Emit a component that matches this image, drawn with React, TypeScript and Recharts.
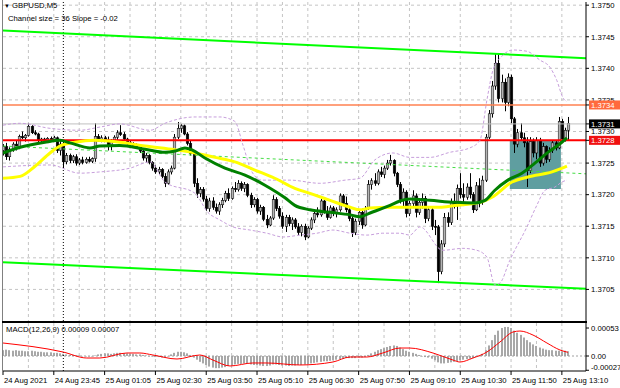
import React from 'react';
import {
  ComposedChart,
  Bar,
  Line,
  XAxis,
  YAxis,
  CartesianGrid,
  ReferenceLine,
  ReferenceArea
} from 'recharts';

// GBPUSD M5 candles: [open, high, low, close]
const candles: number[][] = [
  [1.3727, 1.3728, 1.37262, 1.37276], [1.37276, 1.37282, 1.37255, 1.3726], [1.3726, 1.37275, 1.37254, 1.37272],
  [1.37272, 1.37283, 1.37268, 1.3728], [1.3728, 1.37286, 1.3727, 1.37274], [1.37274, 1.37295, 1.37272, 1.37292],
  [1.37292, 1.373, 1.37288, 1.3729], [1.3729, 1.37296, 1.37284, 1.37294], [1.37294, 1.37313, 1.37292, 1.37308],
  [1.37308, 1.3731, 1.37296, 1.37298], [1.37298, 1.37302, 1.37294, 1.37296], [1.37296, 1.37298, 1.37282, 1.37286],
  [1.37286, 1.3729, 1.37283, 1.37288], [1.37288, 1.3729, 1.37284, 1.37285], [1.37285, 1.37291, 1.37283, 1.37289],
  [1.37289, 1.37292, 1.37285, 1.37286], [1.37286, 1.37293, 1.37284, 1.3729], [1.3729, 1.37292, 1.37266, 1.3727],
  [1.3727, 1.37285, 1.37262, 1.3728], [1.3728, 1.37284, 1.37242, 1.37252], [1.37252, 1.37266, 1.37248, 1.37262],
  [1.37262, 1.37265, 1.3725, 1.37254], [1.37254, 1.37263, 1.3725, 1.3726], [1.3726, 1.37264, 1.37246, 1.3725],
  [1.3725, 1.37258, 1.37247, 1.37255], [1.37255, 1.3726, 1.37248, 1.37251], [1.37251, 1.37259, 1.37249, 1.37256],
  [1.37256, 1.3726, 1.37251, 1.37253], [1.37253, 1.37259, 1.3725, 1.37257], [1.37257, 1.37313, 1.37252, 1.37292],
  [1.37292, 1.37296, 1.37284, 1.37287], [1.37287, 1.37294, 1.37283, 1.3729], [1.3729, 1.37293, 1.37284, 1.37286],
  [1.37286, 1.37292, 1.3727, 1.37276], [1.37276, 1.37288, 1.3727, 1.37285], [1.37285, 1.37294, 1.37283, 1.37291],
  [1.37291, 1.37302, 1.37287, 1.37298], [1.37298, 1.3731, 1.37293, 1.37295], [1.37295, 1.37299, 1.37286, 1.37288],
  [1.37288, 1.3729, 1.37279, 1.37282], [1.37282, 1.37285, 1.37276, 1.3728], [1.3728, 1.37283, 1.37274, 1.37277],
  [1.37277, 1.37281, 1.37273, 1.37275], [1.37275, 1.37278, 1.37266, 1.37269], [1.37269, 1.37272, 1.37254, 1.37258],
  [1.37258, 1.37266, 1.37251, 1.37262], [1.37262, 1.37264, 1.37248, 1.37251], [1.37251, 1.37253, 1.37238, 1.37242],
  [1.37242, 1.37246, 1.37233, 1.37236], [1.37236, 1.37244, 1.37232, 1.3724], [1.3724, 1.37242, 1.37226, 1.37229],
  [1.37229, 1.37234, 1.37212, 1.37218], [1.37218, 1.3724, 1.37216, 1.37236], [1.37236, 1.37246, 1.37232, 1.37242],
  [1.37242, 1.37296, 1.3724, 1.37291], [1.37291, 1.37315, 1.37288, 1.37305], [1.37305, 1.37312, 1.37298, 1.37309],
  [1.37309, 1.37311, 1.37294, 1.37296], [1.37296, 1.37299, 1.37278, 1.37281], [1.37281, 1.37286, 1.37262, 1.37265],
  [1.37265, 1.37268, 1.37212, 1.37218], [1.37218, 1.37226, 1.37195, 1.37202], [1.37202, 1.37212, 1.37196, 1.37208],
  [1.37208, 1.37212, 1.37189, 1.37193], [1.37193, 1.37198, 1.37174, 1.37178], [1.37178, 1.37195, 1.37173, 1.3719],
  [1.3719, 1.37196, 1.37176, 1.3718], [1.3718, 1.37186, 1.3717, 1.37174], [1.37174, 1.37188, 1.37168, 1.37184],
  [1.37184, 1.37195, 1.37179, 1.37191], [1.37191, 1.37206, 1.37188, 1.37202], [1.37202, 1.3721, 1.3719, 1.37194],
  [1.37194, 1.37213, 1.37192, 1.3721], [1.3721, 1.3722, 1.37204, 1.37208], [1.37208, 1.37223, 1.37205, 1.37218],
  [1.37218, 1.37221, 1.37206, 1.3721], [1.3721, 1.3722, 1.37204, 1.37216], [1.37216, 1.37218, 1.37196, 1.37199],
  [1.37199, 1.37203, 1.37179, 1.37184], [1.37184, 1.37196, 1.3718, 1.37192], [1.37192, 1.37195, 1.3717, 1.37174],
  [1.37174, 1.37184, 1.37168, 1.3718], [1.3718, 1.37182, 1.37158, 1.37161], [1.37161, 1.37168, 1.37147, 1.37152],
  [1.37152, 1.37166, 1.3715, 1.37163], [1.37163, 1.37199, 1.3716, 1.37192], [1.37192, 1.37196, 1.37174, 1.37178],
  [1.37178, 1.37182, 1.37162, 1.37166], [1.37166, 1.37172, 1.37146, 1.3715], [1.3715, 1.37168, 1.37141, 1.37164],
  [1.37164, 1.37168, 1.3715, 1.37154], [1.37154, 1.37164, 1.37144, 1.3716], [1.3716, 1.37163, 1.37146, 1.37149],
  [1.37149, 1.37155, 1.37136, 1.3714], [1.3714, 1.37153, 1.37134, 1.3715], [1.3715, 1.37154, 1.37128, 1.37133],
  [1.37133, 1.3715, 1.37131, 1.37147], [1.37147, 1.37164, 1.37144, 1.3716], [1.3716, 1.37174, 1.37155, 1.3717],
  [1.3717, 1.3718, 1.37164, 1.37168], [1.37168, 1.37196, 1.37165, 1.3719], [1.3719, 1.37193, 1.3717, 1.37174],
  [1.37174, 1.37182, 1.3716, 1.37164], [1.37164, 1.37183, 1.37162, 1.37179], [1.37179, 1.37182, 1.37166, 1.3717],
  [1.3717, 1.3718, 1.37164, 1.37176], [1.37176, 1.37202, 1.37173, 1.37198], [1.37198, 1.37201, 1.37182, 1.37186],
  [1.37186, 1.37197, 1.37172, 1.37176], [1.37176, 1.3718, 1.37158, 1.37162], [1.37162, 1.37168, 1.37133, 1.3714],
  [1.3714, 1.37162, 1.37136, 1.37158], [1.37158, 1.37176, 1.37152, 1.37172], [1.37172, 1.37178, 1.37146, 1.37152],
  [1.37152, 1.37182, 1.3715, 1.37178], [1.37178, 1.37223, 1.37176, 1.37216], [1.37216, 1.37226, 1.37208, 1.37222],
  [1.37222, 1.37234, 1.37214, 1.37218], [1.37218, 1.3724, 1.37215, 1.37236], [1.37236, 1.37244, 1.37228, 1.37232],
  [1.37232, 1.37246, 1.37226, 1.37242], [1.37242, 1.37255, 1.37239, 1.3725], [1.3725, 1.37263, 1.37246, 1.37254],
  [1.37254, 1.37256, 1.37229, 1.37234], [1.37234, 1.37236, 1.37212, 1.37216], [1.37216, 1.3722, 1.37186, 1.37192],
  [1.37192, 1.3721, 1.3718, 1.37204], [1.37204, 1.37207, 1.37164, 1.3717], [1.3717, 1.3719, 1.37166, 1.37186],
  [1.37186, 1.37207, 1.37182, 1.37198], [1.37198, 1.37202, 1.37164, 1.37172], [1.37172, 1.37194, 1.37168, 1.37188],
  [1.37188, 1.37202, 1.37178, 1.37194], [1.37194, 1.37198, 1.37155, 1.37162], [1.37162, 1.3718, 1.37158, 1.37176],
  [1.37176, 1.3718, 1.37144, 1.3715], [1.3715, 1.3716, 1.37136, 1.37149], [1.37149, 1.37152, 1.3706, 1.37078],
  [1.37078, 1.37128, 1.37074, 1.37122], [1.37122, 1.37171, 1.37117, 1.37164], [1.37164, 1.37172, 1.37149, 1.37156],
  [1.37156, 1.37194, 1.37152, 1.37188], [1.37188, 1.37202, 1.37178, 1.37184], [1.37184, 1.37216, 1.3716, 1.3721],
  [1.3721, 1.37234, 1.37194, 1.372], [1.372, 1.37218, 1.37182, 1.37196], [1.37196, 1.37218, 1.37192, 1.37212],
  [1.37212, 1.37234, 1.37194, 1.372], [1.372, 1.37204, 1.37171, 1.37176], [1.37176, 1.3722, 1.37174, 1.37214],
  [1.37214, 1.37226, 1.3718, 1.37188], [1.37188, 1.3723, 1.37184, 1.37223], [1.37223, 1.37296, 1.3722, 1.37291],
  [1.37291, 1.37334, 1.37288, 1.37328], [1.37328, 1.3738, 1.37322, 1.37372], [1.37372, 1.37424, 1.37366, 1.37408],
  [1.37408, 1.37424, 1.37346, 1.37352], [1.37352, 1.3739, 1.37346, 1.37378], [1.37378, 1.37384, 1.37332, 1.37346],
  [1.37346, 1.37392, 1.3734, 1.37386], [1.37386, 1.3739, 1.37313, 1.3732], [1.3732, 1.37323, 1.37266, 1.3728],
  [1.3728, 1.37304, 1.37275, 1.37298], [1.37298, 1.37313, 1.37286, 1.3729], [1.3729, 1.37298, 1.37275, 1.37282],
  [1.37282, 1.37291, 1.37212, 1.37238], [1.37238, 1.37291, 1.37234, 1.37284], [1.37284, 1.37289, 1.37259, 1.37266],
  [1.37266, 1.37291, 1.37256, 1.37286], [1.37286, 1.3729, 1.37244, 1.3725], [1.3725, 1.37282, 1.37246, 1.37276],
  [1.37276, 1.37278, 1.3725, 1.37256], [1.37256, 1.37275, 1.37252, 1.3727], [1.3727, 1.37286, 1.37266, 1.37282],
  [1.37282, 1.37286, 1.3727, 1.37274], [1.37274, 1.37323, 1.37272, 1.37316], [1.37316, 1.3732, 1.37282, 1.37288],
  [1.37288, 1.37306, 1.37284, 1.37302], [1.37302, 1.37323, 1.37286, 1.37313]
];

// MACD(12,26,9) main line, drawn as histogram, one value per candle
const macdHist = [
  0.00011, 0.00012, 0.00011, 0.0001, 0.00011, 0.0001, 0.0001,
  0.00009, 0.00009, 0.0001, 0.00009, 0.00008, 0.00008, 0.00007, 0.00007, 0.00007, 0.00006, 0.00006, 0.00005,
  0.00004, 0.00003, 0.00002, 0.00002, 0.00001, 0.00001,
  0, 0, -0.00001, 0, 0.00001, 0.00003,
  0.00004, 0.00005, 0.00005, 0.00004, 0.00005, 0.00006, 0.00006, 0.00005, 0.00005, 0.00004, 0.00004, 0.00003, 0.00003,
  0.00002, 0.00001, 0, -0.00001, -0.00002, -0.00002, -0.00003,
  -0.00003, 0, 0.00003, 0.00006, 0.00008, 0.00008, 0.00007, 0.00005,
  0.00002, -0.00003, -0.00007, -0.00011, -0.00014, -0.00017,
  -0.0002, -0.00022, -0.00023, -0.00023, -0.00022, -0.00021, -0.00019, -0.00018,
  -0.00016, -0.00015, -0.00015, -0.00014, -0.00015, -0.00016, -0.00017, -0.00017,
  -0.00018, -0.00019, -0.00019, -0.00018, -0.00016, -0.00016, -0.00017, -0.00018, -0.00018, -0.00019, -0.00018, -0.00018, -0.00017,
  -0.00017, -0.00016, -0.00016, -0.00014, -0.00013, -0.00012, -0.00011, -0.0001, -0.0001, -0.00009, -0.00008,
  -0.00007, -0.00006, -0.00005, -0.00004, -0.00004, -0.00004, -0.00004, -0.00003, -0.00003, -0.00002,
  0.00002, 0.00005, 0.00008, 0.00011, 0.00013, 0.00015, 0.00017, 0.00019, 0.0002, 0.00019,
  0.00016, 0.00013, 0.0001, 0.00008, 0.00006, 0.00004, 0.00002,
  0, -0.00002, -0.00003, -0.00005, -0.00008,
  -0.00012, -0.00014, -0.00014, -0.00013, -0.00012, -0.00011, -0.0001,
  -0.00008, -0.00007, -0.00006, -0.00005, -0.00004, -0.00002, 0,
  0.00004, 0.00011, 0.0002, 0.0003, 0.0004,
  0.00048, 0.00053, 0.00055, 0.00055, 0.00053,
  0.00048, 0.00044, 0.0004, 0.00035, 0.0003, 0.00026,
  0.00022, 0.00019, 0.00016, 0.00014, 0.00012, 0.00011,
  0.00011, 0.0001, 0.0001, 0.00009, 0.0001, 0.00009
];

// [bar index, value] points
const greenMa = [
  [0, 1.37266], [5.4, 1.37275], [13.2, 1.37283], [17.9, 1.37286], [21.1, 1.37282], [27.4, 1.37274],
  [30.5, 1.37277], [36.8, 1.37278], [44.7, 1.37272], [51, 1.37267], [54.2, 1.37269], [57.3, 1.37274],
  [59.5, 1.37271], [63.6, 1.37258], [69.9, 1.37242], [76.2, 1.37231], [82.5, 1.37215], [88.8, 1.37195],
  [91.9, 1.37183], [96.7, 1.37176], [103, 1.37172], [109.3, 1.37168], [112.4, 1.37165], [115.6, 1.37171],
  [121.9, 1.37183], [125, 1.3719], [128.1, 1.37193], [134.4, 1.37191], [142.3, 1.37188], [148.6, 1.37187],
  [151.8, 1.37191], [154.9, 1.37207], [159, 1.37223], [163.4, 1.37234], [167.5, 1.3725], [171.6, 1.37267],
  [176, 1.37283], [177.6, 1.3729]
];
const yellowMa = [
  [0, 1.37226], [5.4, 1.37229], [10.1, 1.37245], [14.8, 1.37266], [17.9, 1.37277], [22.7, 1.37283],
  [29, 1.37286], [36.8, 1.37283], [44.7, 1.37277], [54.2, 1.37271], [60.5, 1.37266], [66.8, 1.37259],
  [73, 1.37252], [79.3, 1.37239], [85.6, 1.37226], [91.9, 1.3721], [96.7, 1.37202], [103, 1.37191],
  [109.3, 1.3718], [112.4, 1.37176], [115.6, 1.37179], [121.9, 1.3718], [128.1, 1.3718], [137.6, 1.3718],
  [142.3, 1.37183], [149.6, 1.37187], [154, 1.37196], [160.3, 1.3722], [165.3, 1.37228], [172.9, 1.37236],
  [177.6, 1.37245]
];
const bandUpper = [
  [0, 1.3731], [5.4, 1.37313], [14.8, 1.37305], [24.2, 1.37302], [30.5, 1.37307], [36.8, 1.37312],
  [46.3, 1.37302], [51, 1.37313], [60.5, 1.37323], [68.3, 1.37323], [73, 1.37316], [75.6, 1.37278],
  [78.4, 1.37236], [81.5, 1.37223], [90.4, 1.37223], [99.8, 1.37218], [107.7, 1.37223], [112.4, 1.37226],
  [117.1, 1.37255], [122.8, 1.37266], [128.1, 1.37259], [134.4, 1.37259], [140.7, 1.37267], [147, 1.37274],
  [150.2, 1.37286], [152.4, 1.3735], [154.3, 1.37397], [157.1, 1.37419], [160.6, 1.37429], [165, 1.37427],
  [169.1, 1.37413], [172.2, 1.37402], [174.4, 1.37381], [176.3, 1.37354], [177.6, 1.37347]
];
const bandLower = [
  [0, 1.37244], [14.8, 1.37247], [24.2, 1.37234], [30.5, 1.37236], [40, 1.37242], [46.3, 1.37252],
  [51, 1.3722], [60.5, 1.37202], [64.5, 1.37172], [68.3, 1.3716], [72.4, 1.37149], [77.8, 1.37144],
  [83.1, 1.37139], [88.2, 1.37133], [93.5, 1.37136], [98.9, 1.37139], [103.9, 1.37144], [109.3, 1.37139],
  [114.6, 1.37136], [119.6, 1.37139], [125, 1.37139], [128.1, 1.37136], [131.3, 1.37149], [138.5, 1.37112],
  [144.8, 1.37115], [149.2, 1.37112], [152.4, 1.37101], [154.9, 1.37057], [156.5, 1.3706], [159.6, 1.37096],
  [165, 1.37149], [168.1, 1.37183], [170.7, 1.37207], [173.8, 1.37212], [176, 1.3722], [177.6, 1.37223]
];
const macdSignal = [
  [0, 0.000246], [18.9, 0.000076], [26.4, -0.000038], [30.5, -0.000038], [39, 0.000057], [43.1, 0.000057],
  [47.2, 0.000019], [54.8, -0.000057], [62, 0.000019], [66.1, -0.000076], [71.5, -0.000189], [78.7, -0.000132],
  [83.1, -0.000132], [93.5, -0.00017], [103.9, -0.000114], [109.3, -0.000019], [114.6, -0.000019], [119.6, 0.000057],
  [125, 0.000151], [128.1, 0.000151], [135.4, 0.000057], [141.7, -0.000076], [143.9, -0.000114], [148, -0.000038],
  [152.4, 0.000076], [156.5, 0.000265], [160.6, 0.000454], [162.8, 0.000473], [166.9, 0.000397], [171.3, 0.000246],
  [175.4, 0.000114], [177.9, 0.00007]
];

// equidistant channel ends (bar index, price)
const channelTop = [[0, 1.3746], [183.6, 1.37416]];
const channelMid = [[0, 1.37277], [183.6, 1.37233]];
const channelBottom = [[0, 1.37093], [183.6, 1.37051]];

const timeTicks = [0, 16, 32, 48, 64, 80, 96, 112, 128, 144, 160, 176];
const timeLabels = [
  '24 Aug 2021', '24 Aug 23:45', '25 Aug 01:05', '25 Aug 02:30', '25 Aug 03:50', '25 Aug 05:10',
  '25 Aug 06:30', '25 Aug 07:50', '25 Aug 09:10', '25 Aug 10:30', '25 Aug 11:50', '25 Aug 13:10'
];
const priceTicks = [1.3705, 1.371, 1.3715, 1.372, 1.3725, 1.373, 1.3735, 1.374, 1.3745, 1.375];
const markerPrices = [1.37342, 1.37312, 1.37286];
const markerLabels = ['1.3734', '1.3731', '1.3728'];
const markerColors = ['#ff6a3d', '#000000', '#f01010'];
const macdTicks = [0.00053, 0, -0.00027];
const macdTickLabels = ['0.00053', '0.00', '-0.00027'];

const X_MAX = 183.6;
const FONT = '"Liberation Sans", Arial, sans-serif';
const FS = 7.7;
const gridIdx = [8, 16, 24, 32, 40, 48, 56, 64, 72, 80, 88, 96, 104, 112, 120, 128, 136, 144, 152, 160, 168, 176];

const rows = candles.map(([o, h, l, c], i) => ({ i, o, h, l, c, range: [l, h], hist: macdHist[i] }));
const toPts = (arr: number[][]) => arr.map(([i, v]) => ({ i, v }));
const seg = (arr: number[][]) => arr.map(([x, y]) => ({ x, y }));

const Candle = (props: any) => {
  const { x, y, width, height, payload } = props;
  if (!payload) return null;
  const { o, h, l, c } = payload;
  const top = Math.min(y, y + height);
  const span = Math.abs(height);
  const k = h > l ? span / (h - l) : 0;
  const cx = Math.round(x + width / 2) + 0.5;
  const bTop = top + (h - Math.max(o, c)) * k;
  const bBot = top + (h - Math.min(o, c)) * k;
  const up = c >= o;
  return (
    <g>
      <line x1={cx} x2={cx} y1={top} y2={top + span} stroke="#000" strokeWidth={1} />
      <rect
        x={cx - 1.3}
        y={bTop}
        width={2.6}
        height={Math.max(bBot - bTop, 1)}
        fill={up ? '#b4b4b4' : '#000'}
        stroke="#000"
        strokeWidth={0.5}
      />
    </g>
  );
};

const HistBar = (props: any) => {
  const { x, y, width, height } = props;
  if (x == null || y == null) return null;
  const top = Math.min(y, y + height);
  const h = Math.max(Math.abs(height), 0.5);
  const cx = Math.round(x + width / 2);
  return <rect x={cx - 1} y={top} width={2} height={h} fill="#a8a8a8" />;
};

const PriceTick = ({ x, y, payload }: any) => {
  const k = markerPrices.indexOf(payload.value);
  if (k >= 0) {
    return (
      <g>
        <rect x={x - 2} y={y - 4.5} width={33} height={9} fill={markerColors[k]} />
        <text x={x} y={y} dy={2.8} fill="#fff" fontSize={FS}>{markerLabels[k]}</text>
      </g>
    );
  }
  return <text x={x} y={y} dy={2.8} fill="#000" fontSize={FS}>{payload.value.toFixed(4)}</text>;
};

const MacdTick = ({ x, y, payload }: any) => {
  const k = macdTicks.indexOf(payload.value);
  return (
    <text x={x} y={payload.value < 0 ? y - 3 : y} dy={2.8} fill="#000" fontSize={FS}>
      {macdTickLabels[k]}
    </text>
  );
};

const TimeTick = ({ x, y, payload }: any) => (
  <text x={x + 1} y={y} dy={6} fill="#000" fontSize={FS} textAnchor="start">
    {timeLabels[timeTicks.indexOf(payload.value)]}
  </text>
);

export default function App() {
  return (
    <div style={{ position: 'absolute', left: 0, top: 0, width: 620, height: 388, background: '#fff', overflow: 'hidden', fontFamily: FONT }}>
      <div style={{ position: 'absolute', left: 0, top: 0 }}>
        <ComposedChart width={620} height={323} data={rows} margin={{ top: 2, right: 0, bottom: 2, left: 3 }}>
          <CartesianGrid stroke="#c4c4c4" strokeDasharray="3 3" horizontalValues={priceTicks} verticalValues={gridIdx} />
          <XAxis type="number" dataKey="i" domain={[0, X_MAX]} hide allowDataOverflow />
          <YAxis
            orientation="right"
            width={34}
            domain={[1.37, 1.37505]}
            allowDataOverflow
            ticks={[...priceTicks, ...markerPrices]}
            interval={0}
            tick={(p: any) => <PriceTick {...p} />}
            tickSize={3}
            tickLine={{ stroke: '#000' }}
            axisLine={{ stroke: '#000' }}
          />
          <ReferenceArea x1={159.6} x2={175.7} y1={1.37209} y2={1.37286} fill="#5f9ea0" fillOpacity={1} stroke="none" zIndex={50} />
          <ReferenceLine x={19} stroke="#000" strokeDasharray="1 2" />
          <ReferenceLine segment={seg(channelTop)} stroke="#00ff00" strokeWidth={2} />
          <ReferenceLine segment={seg(channelBottom)} stroke="#00ff00" strokeWidth={2} />
          <ReferenceLine segment={seg(channelMid)} stroke="#44dd44" strokeDasharray="3 3" />
          <ReferenceLine y={markerPrices[0]} stroke="#ff8050" strokeWidth={1.5} />
          <ReferenceLine y={markerPrices[1]} stroke="#c0c0c0" />
          <ReferenceLine y={markerPrices[2]} stroke="#ff0000" strokeWidth={2} />
          <Line data={toPts(bandUpper)} dataKey="v" type="monotone" stroke="#c79fdc" strokeDasharray="3 2" strokeWidth={1} dot={false} isAnimationActive={false} />
          <Line data={toPts(bandLower)} dataKey="v" type="monotone" stroke="#c79fdc" strokeDasharray="3 2" strokeWidth={1} dot={false} isAnimationActive={false} />
          <Bar dataKey="range" barSize={3} shape={(p: any) => <Candle {...p} />} isAnimationActive={false} />
          <Line data={toPts(yellowMa)} dataKey="v" type="monotone" stroke="#ffff00" strokeWidth={3} dot={false} isAnimationActive={false} />
          <Line data={toPts(greenMa)} dataKey="v" type="monotone" stroke="#008000" strokeWidth={3} dot={false} isAnimationActive={false} />
        </ComposedChart>
      </div>

      <div style={{ position: 'absolute', left: 0, top: 321 }}>
        <ComposedChart width={620} height={67} data={rows} margin={{ top: 2, right: 0, bottom: 0, left: 3 }}>
          <CartesianGrid stroke="#c4c4c4" strokeDasharray="3 3" horizontal={false} verticalValues={gridIdx} />
          <XAxis
            type="number"
            dataKey="i"
            domain={[0, X_MAX]}
            allowDataOverflow
            ticks={timeTicks}
            interval={0}
            tick={(p: any) => <TimeTick {...p} />}
            tickSize={4}
            tickLine={{ stroke: '#000' }}
            axisLine={{ stroke: '#000' }}
            height={17}
          />
          <YAxis
            orientation="right"
            width={34}
            domain={[-0.000284, 0.000625]}
            allowDataOverflow
            ticks={macdTicks}
            interval={0}
            tick={(p: any) => <MacdTick {...p} />}
            tickSize={3}
            tickLine={{ stroke: '#000' }}
            axisLine={{ stroke: '#000' }}
          />
          <ReferenceLine x={19} stroke="#000" strokeDasharray="1 2" />
          <ReferenceLine y={0} stroke="#a0a0a0" strokeDasharray="2 2" />
          <Bar dataKey="hist" barSize={2} shape={(p: any) => <HistBar {...p} />} isAnimationActive={false} />
          <Line data={toPts(macdSignal)} dataKey="v" type="monotone" stroke="#ff0000" strokeWidth={1} dot={false} isAnimationActive={false} />
        </ComposedChart>
      </div>

      {/* panel frames */}
      <div style={{ position: 'absolute', left: 2, top: 0, width: 1, height: 372, background: '#808080' }} />
      <div style={{ position: 'absolute', left: 2, top: 321, width: 585, height: 2, background: '#000' }} />

      <div style={{ position: 'absolute', left: 4, top: 1, fontSize: FS, lineHeight: '10px', color: '#000', whiteSpace: 'nowrap' }}>
        <span style={{ fontSize: 6 }}>▼</span> GBPUSD,M5
      </div>
      <div style={{ position: 'absolute', left: 8, top: 14, fontSize: FS, lineHeight: '10px', color: '#000', whiteSpace: 'nowrap' }}>
        Channel size = 36 Slope = -0.02
      </div>
      <div style={{ position: 'absolute', left: 6, top: 325, fontSize: FS, lineHeight: '10px', color: '#000', whiteSpace: 'nowrap' }}>
        MACD(12,26,9) 0.00009 0.00007
      </div>
    </div>
  );
}
